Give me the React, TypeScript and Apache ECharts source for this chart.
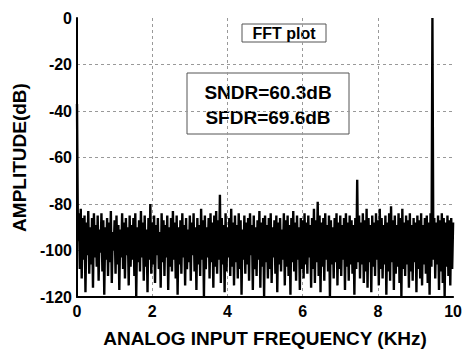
import React, { useEffect, useRef } from "react";
import * as echarts from "echarts";

// Frequency axis (KHz) and amplitude axis (dB)
const xTicks = [0, 2, 4, 6, 8, 10];
const yTicks = [-120, -100, -80, -60, -40, -20, 0];
const freqStartKHz = 0;
const freqStepKHz = 0.025;

// FFT amplitude per bin (dB)
const amplitudeDb = [
  -37, -96, -84, -108, -82, -112, -86, -104, -85, -118, -88, -102, -83, -110, -90, -106, -86, -116, -84, -103,
  -89, -107, -85, -113, -91, -101, -84, -109, -87, -119, -90, -104, -86, -111, -88, -105, -83, -114, -92, -100,
  -87, -110, -85, -106, -89, -117, -91, -103, -84, -108, -88, -112, -86, -102, -90, -115, -85, -107, -89, -104,
  -86, -111, -84, -120, -90, -105, -87, -109, -83, -103, -88, -113, -85, -107, -91, -118, -86, -104, -80, -110,
  -88, -106, -85, -114, -89, -102, -86, -108, -92, -116, -84, -105, -87, -111, -89, -103, -85, -117, -90, -107,
  -86, -109, -83, -104, -88, -112, -85, -119, -90, -106, -87, -110, -84, -103, -89, -115, -86, -108, -91, -105,
  -85, -113, -88, -102, -84, -109, -90, -117, -86, -106, -89, -111, -82, -104, -87, -120, -85, -108, -90, -103,
  -86, -112, -84, -105, -88, -116, -85, -107, -83, -110, -87, -104, -76, -114, -86, -106, -89, -118, -84, -109,
  -90, -103, -86, -111, -82, -107, -88, -115, -85, -105, -89, -112, -84, -108, -87, -119, -91, -104, -85, -110,
  -88, -106, -86, -113, -84, -102, -89, -117, -85, -108, -90, -111, -87, -104, -83, -116, -88, -107, -86, -120,
  -85, -105, -89, -112, -86, -108, -84, -114, -90, -103, -87, -110, -85, -118, -88, -106, -86, -109, -91, -104,
  -84, -115, -87, -107, -85, -111, -89, -119, -86, -105, -83, -109, -88, -113, -85, -104, -90, -117, -86, -108,
  -87, -112, -84, -106, -88, -110, -85, -103, -89, -116, -86, -108, -82, -114, -87, -105, -79, -111, -85, -118,
  -88, -107, -86, -113, -84, -104, -89, -109, -85, -120, -87, -106, -90, -112, -86, -105, -84, -115, -88, -108,
  -85, -111, -89, -104, -86, -117, -84, -107, -88, -113, -85, -106, -87, -110, -89, -119, -86, -108, -69.6, -105,
  -85, -112, -88, -106, -84, -114, -87, -109, -82, -116, -86, -105, -89, -118, -85, -107, -88, -111, -84, -104,
  -87, -115, -82, -108, -86, -112, -89, -106, -85, -119, -88, -109, -84, -113, -81, -105, -87, -117, -85, -110,
  -89, -107, -84, -114, -86, -120, -82, -108, -88, -111, -85, -106, -87, -116, -84, -109, -89, -113, -86, -105,
  -88, -118, -85, -108, -87, -112, -84, -115, -89, -106, -86, -110, -85, -114, -88, -119, -84, -107, 0, -104,
  -86, -112, -88, -106, -85, -117, -87, -109, -84, -114, -86, -120, -88, -107, -85, -111, -87, -115, -86, -108,
  -88,
];

const legendLabel = "FFT plot";
const metricLines = ["SNDR=60.3dB", "SFDR=69.6dB"];
const xTitle = "ANALOG INPUT FREQUENCY (KHz)";
const yTitle = "AMPLITUDE(dB)";

const FONT = "'Liberation Sans', Arial, sans-serif";

export default function App() {
  const ref = useRef<HTMLDivElement>(null);

  useEffect(() => {
    if (!ref.current) return;
    const chart = echarts.init(ref.current, undefined, { renderer: "svg" });
    const seriesData = amplitudeDb.map((v, i) => [freqStartKHz + i * freqStepKHz, v]);

    chart.setOption({
      animation: false,
      backgroundColor: "#ffffff",
      grid: { left: 77, right: 9, top: 18, bottom: 55, containLabel: false },
      xAxis: {
        type: "value",
        min: xTicks[0],
        max: xTicks[xTicks.length - 1],
        interval: 2,
        name: xTitle,
        nameLocation: "middle",
        nameGap: 32,
        nameTextStyle: { fontFamily: FONT, fontWeight: "bold", fontSize: 19, color: "#000" },
        axisLine: { show: true, onZero: false, lineStyle: { color: "#000", width: 2 } },
        axisTick: { show: false },
        axisLabel: { fontFamily: FONT, fontWeight: "bold", fontSize: 16, color: "#000", margin: 6 },
        splitLine: {
          show: true,
          showMinLine: false,
          showMaxLine: false,
          lineStyle: { color: "#999", type: [3, 3], width: 1 },
        },
      },
      yAxis: {
        type: "value",
        min: yTicks[0],
        max: yTicks[yTicks.length - 1],
        interval: 20,
        name: yTitle,
        nameLocation: "middle",
        nameGap: 48,
        nameTextStyle: { fontFamily: FONT, fontWeight: "bold", fontSize: 19, color: "#000" },
        axisLine: { show: true, onZero: false, lineStyle: { color: "#000", width: 2 } },
        axisTick: { show: false },
        axisLabel: { fontFamily: FONT, fontWeight: "bold", fontSize: 16, color: "#000", margin: 5 },
        splitLine: {
          show: true,
          showMinLine: false,
          showMaxLine: false,
          lineStyle: { color: "#999", type: [3, 3], width: 1 },
        },
      },
      series: [
        {
          name: legendLabel,
          type: "line",
          data: seriesData,
          showSymbol: false,
          symbol: "none",
          lineStyle: { color: "#000", width: 2.4, join: "miter" },
          silent: true,
          z: 3,
        },
      ],
      graphic: [
        {
          type: "group",
          z: 100,
          children: [
            {
              type: "rect",
              shape: { x: 242, y: 24, width: 84, height: 18 },
              style: { fill: "#fff", stroke: "#555", lineWidth: 1 },
            },
            {
              type: "text",
              x: 284,
              y: 33.5,
              style: {
                text: legendLabel,
                fontFamily: FONT,
                fontWeight: "bold",
                fontSize: 16,
                fill: "#000",
                align: "center",
                verticalAlign: "middle",
              },
            },
            {
              type: "rect",
              shape: { x: 187, y: 73, width: 162, height: 61 },
              style: { fill: "#fff", stroke: "#555", lineWidth: 1 },
            },
            {
              type: "text",
              x: 268,
              y: 92,
              style: {
                text: metricLines[0],
                fontFamily: FONT,
                fontWeight: "bold",
                fontSize: 19,
                fill: "#000",
                align: "center",
                verticalAlign: "middle",
              },
            },
            {
              type: "text",
              x: 268,
              y: 117,
              style: {
                text: metricLines[1],
                fontFamily: FONT,
                fontWeight: "bold",
                fontSize: 19,
                fill: "#000",
                align: "center",
                verticalAlign: "middle",
              },
            },
          ],
        },
      ],
    });

    return () => chart.dispose();
  }, []);

  return (
    <div
      ref={ref}
      style={{ position: "fixed", left: 0, top: 0, width: 465, height: 353 }}
    />
  );
}
